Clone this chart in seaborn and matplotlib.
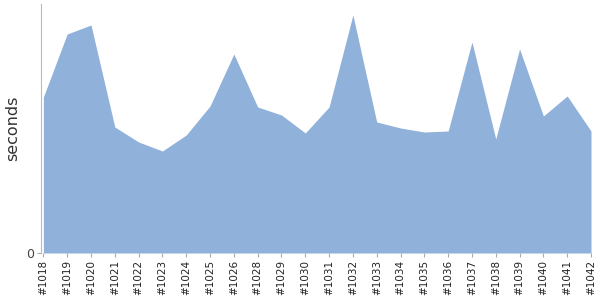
import matplotlib
matplotlib.use("Agg")
import matplotlib.pyplot as plt
import seaborn as sns
import numpy as np

builds = ["#1018", "#1019", "#1020", "#1021", "#1022", "#1023", "#1024", "#1025",
          "#1026", "#1028", "#1029", "#1030", "#1031", "#1032", "#1033", "#1034",
          "#1035", "#1036", "#1037", "#1038", "#1039", "#1040", "#1041", "#1042"]
seconds = [156, 219, 228, 126, 111, 102, 118, 147, 199, 146, 138, 120, 146, 238,
           131, 125, 121, 122, 211, 114, 204, 137, 157, 122]

sns.set_theme(style="white")
plt.rcParams['font.family'] = ['DejaVu Sans']

fig = plt.figure(figsize=(6, 3), dpi=100)
ax = fig.add_axes([41/600, 47/300, (591-41)/600, 249/300])

x = np.arange(len(builds))
sns.lineplot(x=x, y=seconds, ax=ax, linewidth=0, color="#8fb1da")
ax.fill_between(x, seconds, 0, color="#8fb1da", linewidth=0)

ax.set_xlim(-0.1, len(builds) - 1)
ax.set_ylim(0, 249)
ax.set_xticks(x)
ax.set_xticklabels(builds, rotation=90, fontsize=7.5, color="#222222")
ax.set_yticks([0])
ax.set_yticklabels(["0"], fontsize=9, color="#444444")
ax.tick_params(axis="x", length=3, color="#aaaaaa", width=0.8, pad=2, bottom=True)
ax.tick_params(axis="y", length=3, color="#aaaaaa", width=0.8, pad=2, left=True)
ax.set_ylabel("seconds", fontsize=11.5, color="#333333", labelpad=4)
ax.set_xlabel("")

for s in ["top", "right"]:
    ax.spines[s].set_visible(False)
ax.spines["left"].set_color("#bbbbbb")
ax.spines["left"].set_linewidth(0.8)
ax.spines["bottom"].set_visible(False)

fig.savefig("out.png", dpi=100)
